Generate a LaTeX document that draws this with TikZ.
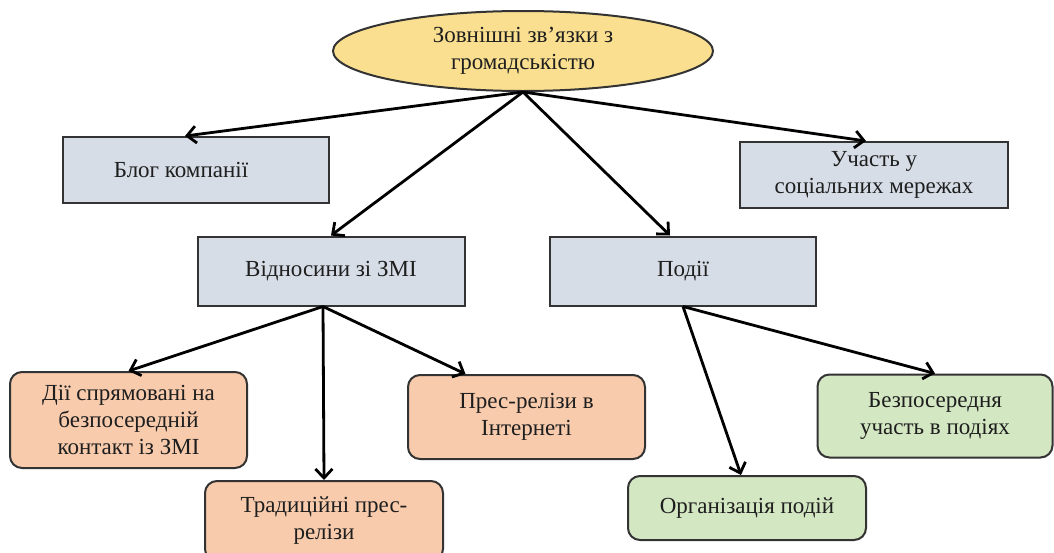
\documentclass[tikz,border=0pt]{standalone}
\usepackage{fontspec}
\setmainfont{Liberation Serif}
\usetikzlibrary{shapes.geometric,arrows.meta}
\definecolor{ellfill}{HTML}{F9DF8F}
\definecolor{boxfill}{HTML}{D7DDE6}
\definecolor{peach}{HTML}{F7CBAC}
\definecolor{green}{HTML}{D4E7C3}
\definecolor{edge}{HTML}{333333}
\definecolor{txt}{HTML}{1E1E1E}
\tikzset{
  base/.style={draw=edge, line width=2pt, text=txt, font=\fontsize{23}{27}\selectfont, align=center, inner sep=0pt},
  ellnode/.style={base, ellipse, fill=ellfill, minimum width=380pt, minimum height=80pt},
  sqbox/.style={base, rectangle, fill=boxfill},
  rbox/.style={base, rectangle, rounded corners=12pt},
  peachbox/.style={rbox, fill=peach},
  greenbox/.style={rbox, fill=green},
  arr/.style={line width=2.8pt, black, -{Straight Barb[length=9pt,width=17pt,line width=2.8pt]}}
}
\begin{document}
\begin{tikzpicture}[x=1pt,y=-1pt]
\useasboundingbox (0,0) rectangle (1054,552);
\node[ellnode] (top) at (523,51) {Зовнішні зв’язки з\\громадськістю};
\node[sqbox, minimum width=266pt, minimum height=66pt] (blog) at (196,170) {Блог компанії\hspace*{30pt}};
\node[sqbox, minimum width=268pt, minimum height=66pt] (soc) at (874,175) {Участь у\\соціальних мережах};
\node[sqbox, minimum width=267pt, minimum height=69pt] (media) at (331,271) {Відносини зі ЗМІ};
\node[sqbox, minimum width=266pt, minimum height=69pt] (ev) at (683,271) {Події};
\node[peachbox, minimum width=237pt, minimum height=96pt] (direct) at (128.5,420) {Дії спрямовані на\\безпосередній\\контакт із ЗМІ};
\node[peachbox, minimum width=238pt, minimum height=80pt] (trad) at (324,521) {Традиційні прес-\\релізи};
\node[peachbox, minimum width=237pt, minimum height=84pt] (net) at (526.5,417) {Прес-релізи в\\Інтернеті};
\node[greenbox, minimum width=235pt, minimum height=83pt] (part) at (935,416) {Безпосередня\\участь в подіях};
\node[greenbox, minimum width=238pt, minimum height=64pt] (org) at (747,508) {Організація подій};
\draw[arr] (top.south) -- ([xshift=-11pt]blog.north);
\draw[arr] (top.south) -- ([xshift=-8pt]soc.north);
\draw[arr] (top.south) -- (media.north);
\draw[arr] (top.south) -- ([xshift=-13pt]ev.north);
\draw[arr] ([xshift=-8pt]media.south) -- (direct.north);
\draw[arr] ([xshift=-8pt]media.south) -- (trad.north);
\draw[arr] ([xshift=-8pt]media.south) -- ([xshift=-61pt]net.north);
\draw[arr] (ev.south) -- ([xshift=-6pt]org.north);
\draw[arr] (ev.south) -- (part.north);
\end{tikzpicture}
\end{document}
